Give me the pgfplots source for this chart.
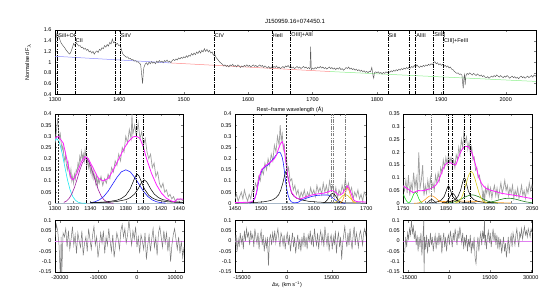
\documentclass[border=0pt]{standalone}
\usepackage{fontspec}
\setmainfont{Liberation Sans}
\usepackage{pgfplots}
\pgfplotsset{compat=1.18}
\definecolor{datag}{HTML}{A0A0A0}
\definecolor{specg}{HTML}{5A5A5A}
\definecolor{resg}{HTML}{7A7A7A}
\definecolor{contb}{HTML}{8C8CFF}
\definecolor{contr}{HTML}{FF8C8C}
\definecolor{contg}{HTML}{8CF08C}
\definecolor{tot}{HTML}{FF20FF}
\definecolor{cpur}{HTML}{A020A0}
\definecolor{ccyan}{HTML}{20E8F0}
\definecolor{cblue}{HTML}{2020FF}
\definecolor{cyel}{HTML}{D8CC20}
\definecolor{corg}{HTML}{FFA020}
\definecolor{cgrn}{HTML}{20E020}
\definecolor{cdgrn}{HTML}{208020}
\definecolor{zline}{HTML}{E080F0}
\definecolor{base}{HTML}{A8B8C8}
\newcommand{\fs}{\fontsize{5.5}{6}\selectfont}
\tikzset{lbl/.style={anchor=west, inner sep=0.6pt, font=\fs}}
\pgfplotsset{
  myax/.style={scale only axis, anchor=south west, tick align=inside,
    font=\fs, tick label style={font=\fs},
    major tick length=2pt, scaled ticks=false,
    axis line style={line width=0.5pt},
    xticklabel style={/pgf/number format/fixed, /pgf/number format/precision=2, /pgf/number format/1000 sep={}, /pgf/number format/assume math mode=true},
    yticklabel style={/pgf/number format/fixed, /pgf/number format/precision=2, /pgf/number format/1000 sep={}, /pgf/number format/assume math mode=true}},
  vl/.style={black, line width=0.7pt, dash pattern=on 3.5pt off 1.2pt on 0.8pt off 1.2pt},
  vlt/.style={black!80, line width=0.4pt, dash pattern=on 2pt off 1.2pt},
  vlg/.style={gray, line width=0.7pt, dash pattern=on 3.5pt off 1.2pt on 0.8pt off 1.2pt},
}
\begin{document}
\begin{tikzpicture}
\path[use as bounding box] (0pt,0pt) rectangle (555pt,-292pt);
\node[font=\fontsize{6}{7}\selectfont] at (295pt,-21.5pt) {J150959.16+074450.1};
\node[font=\fs, rotate=90] at (28pt,-62pt) {Normalised F$_\lambda$};
\node[font=\fs] at (290pt,-110pt) {Rest−frame wavelength (Å)};
\node[font=\fs] at (287pt,-285pt) {Δv\textsubscript{r} (km s\textsuperscript{−1})};

% ---------------- top panel ----------------
\begin{axis}[myax, at={(55pt,-94.3pt)}, width=481pt, height=64.3pt,
  xmin=1300, xmax=2047, ymin=0.4, ymax=1.6,
  xtick={1300,1400,1500,1600,1700,1800,1900,2000},
  ytick={0.4,0.6,0.8,1,1.2,1.4,1.6}]
\addplot[contb, line width=0.5pt] coordinates {(1300,1.11) (1480,0.985)};
\addplot[contr, line width=0.5pt] coordinates {(1480,0.985) (1727,0.825)};
\addplot[contg, line width=0.5pt] coordinates {(1727,0.825) (2047,0.64)};
\addplot[specg, line width=0.45pt] coordinates {
(1300,1.38) (1302,1.47) (1303,1.54) (1305,1.50) (1307,1.44) (1309,1.37) (1311,1.33) (1313,1.30) (1315,1.27) (1317,1.23) (1319,1.20) (1321,1.17) (1323,1.15) (1325,1.20) (1327,1.27) (1329,1.35) (1331,1.31) (1333,1.36) (1335,1.33) (1337,1.30) (1339,1.31) (1341,1.27) (1343,1.28) (1345,1.24) (1347,1.26) (1349,1.22) (1351,1.24) (1353,1.19) (1355,1.21) (1357,1.17) (1359,1.20) (1361,1.15) (1363,1.19) (1365,1.21) (1367,1.18) (1369,1.24) (1371,1.22) (1373,1.27) (1375,1.25) (1377,1.31) (1379,1.28) (1381,1.33) (1383,1.30) (1385,1.37) (1387,1.34) (1389,1.43) (1391,1.36) (1393,1.38) (1395,1.33) (1397,1.35) (1399,1.31) (1401,1.32) (1403,1.24) (1405,1.16) (1407,1.13) (1409,1.11) (1411,1.09) (1413,1.10) (1415,1.06) (1417,1.07) (1419,1.04) (1421,1.05) (1423,1.02) (1425,1.03) (1427,1.00) (1429,1.01) (1431,0.98) (1433,0.96) (1435,0.72) (1436,0.60) (1437,0.78) (1438,0.90) (1440,0.96) (1442,0.99) (1444,0.95) (1446,1.00) (1448,0.97) (1450,1.01) (1452,0.98) (1454,1.00) (1456,0.97) (1458,1.02) (1460,0.99) (1462,1.03) (1464,1.00) (1466,1.02) (1468,0.99) (1470,1.03) (1472,1.01) (1474,1.04) (1476,1.00) (1478,1.02) (1480,0.99) (1482,1.03) (1484,1.05) (1486,1.03) (1488,1.06) (1490,1.04) (1492,1.08) (1494,1.06) (1496,1.09) (1498,1.07) (1500,1.10) (1502,1.08) (1504,1.12) (1506,1.09) (1508,1.13) (1510,1.11) (1512,1.16) (1514,1.13) (1516,1.17) (1518,1.14) (1520,1.19) (1522,1.16) (1524,1.21) (1526,1.17) (1528,1.22) (1530,1.19) (1532,1.25) (1534,1.20) (1536,1.24) (1538,1.19) (1540,1.22) (1542,1.17) (1544,1.19) (1546,1.13) (1548,1.15) (1550,1.09) (1552,1.06) (1554,1.03) (1556,1.00) (1558,0.98) (1560,0.96)
(1562,0.93) (1564,0.95) (1566,0.92) (1568,0.94) (1570,0.91) (1572,0.95) (1574,0.93) (1576,0.96) (1578,0.92) (1580,0.94) (1582,0.91) (1584,0.95) (1586,0.93) (1588,0.90) (1590,0.93) (1592,0.91) (1594,0.94) (1596,0.92) (1598,0.95) (1600,0.92) (1602,0.94) (1604,0.91) (1606,0.93) (1608,0.95) (1610,0.92) (1612,0.94) (1614,0.91) (1616,0.93) (1618,0.95) (1620,0.92) (1622,0.94) (1624,0.90) (1626,0.93) (1628,0.91) (1630,0.89) (1632,0.92) (1634,0.88) (1636,0.91) (1638,0.89) (1640,0.92) (1642,0.90) (1644,0.93) (1646,0.89) (1648,0.91) (1650,0.88) (1652,0.90) (1654,0.92) (1656,0.89) (1658,0.93) (1660,0.91) (1662,0.94) (1664,0.90) (1666,0.92) (1668,0.89) (1670,0.91) (1672,0.88) (1674,0.90) (1676,0.92) (1678,0.89) (1680,0.91) (1682,0.88) (1684,0.90) (1686,0.92) (1688,0.89) (1690,0.91) (1692,0.88) (1694,0.90) (1696,0.87) (1697,1.29) (1698,0.86) (1700,0.89) (1702,0.87) (1704,0.90) (1706,0.88) (1708,0.91) (1710,0.89) (1712,0.92) (1714,0.89) (1716,0.91) (1718,0.88) (1720,0.90) (1722,0.87) (1724,0.89) (1726,0.91) (1728,0.88) (1730,0.90) (1732,0.87) (1734,0.89) (1736,0.86) (1738,0.89) (1740,0.87) (1742,0.90) (1744,0.86) (1746,0.88) (1748,0.85) (1750,0.87) (1752,0.90) (1754,0.88) (1756,0.91) (1758,0.87) (1760,0.89) (1762,0.86) (1764,0.88) (1766,0.85) (1768,0.87) (1770,0.84) (1772,0.86) (1774,0.83) (1776,0.85) (1778,0.82) (1780,0.84) (1782,0.81) (1784,0.83) (1786,0.80) (1788,0.83) (1790,0.82) (1792,0.90) (1794,0.74) (1795,0.70) (1796,0.80) (1798,0.82) (1800,0.80)
(1802,0.82) (1804,0.79) (1806,0.81) (1808,0.78) (1810,0.81) (1812,0.79) (1814,0.82) (1816,0.80) (1818,0.83) (1820,0.81) (1822,0.84) (1824,0.82) (1826,0.85) (1828,0.83) (1830,0.86) (1832,0.84) (1834,0.87) (1836,0.85) (1838,0.88) (1840,0.86) (1842,0.89) (1844,0.87) (1846,0.90) (1848,0.88) (1850,0.91) (1852,0.89) (1854,0.92) (1856,0.90) (1858,0.94) (1860,0.91) (1862,0.95) (1864,0.92) (1866,0.90) (1868,0.93) (1870,0.91) (1872,0.94) (1874,0.92) (1876,0.95) (1878,0.93) (1880,0.96) (1882,0.94) (1884,0.97) (1886,0.95) (1888,0.99) (1890,1.01) (1892,0.97) (1894,0.99) (1896,0.95) (1898,0.97) (1900,0.94) (1902,0.96) (1904,0.92) (1906,0.94) (1908,0.91) (1910,0.93) (1912,0.89) (1914,0.91) (1916,0.87) (1918,0.86) (1920,0.83) (1922,0.81) (1924,0.79) (1926,0.80) (1928,0.77) (1930,0.78) (1932,0.76) (1933,0.62) (1934,0.51) (1935,0.70) (1936,0.77) (1937,0.57) (1938,0.74) (1940,0.79) (1942,0.77) (1944,0.80) (1946,0.78) (1948,0.76) (1950,0.79) (1952,0.77) (1954,0.75) (1956,0.78) (1958,0.76) (1960,0.74) (1962,0.76) (1964,0.73) (1966,0.75) (1968,0.72) (1970,0.71) (1972,0.73) (1974,0.70) (1976,0.72) (1978,0.74) (1980,0.72) (1982,0.75) (1984,0.73) (1986,0.76) (1988,0.74) (1990,0.72) (1992,0.75) (1994,0.73) (1996,0.71) (1998,0.74) (2000,0.72) (2002,0.75) (2004,0.73) (2006,0.70) (2008,0.72) (2010,0.74) (2012,0.71) (2014,0.73) (2016,0.70) (2018,0.72) (2020,0.69) (2022,0.72) (2024,0.74) (2026,0.71) (2028,0.73) (2030,0.70) (2032,0.72) (2034,0.74) (2036,0.71) (2038,0.73) (2040,0.75) (2042,0.72) (2044,0.76) (2046,0.74) (2047,0.75)};
\addplot[vl] coordinates {(1301,0.4) (1301,1.6)};
\addplot[vl] coordinates {(1304,0.4) (1304,1.6)};
\addplot[vl] coordinates {(1331,0.4) (1331,1.6)};
\addplot[vl] coordinates {(1393,0.4) (1393,1.6)};
\addplot[vl] coordinates {(1401,0.4) (1401,1.6)};
\addplot[vl] coordinates {(1547,0.4) (1547,1.6)};
\addplot[vl] coordinates {(1637,0.4) (1637,1.6)};
\addplot[vl] coordinates {(1666,0.4) (1666,1.6)};
\addplot[vl] coordinates {(1817,0.4) (1817,1.6)};
\addplot[vl] coordinates {(1851,0.4) (1851,1.6)};
\addplot[vl] coordinates {(1860,0.4) (1860,1.6)};
\addplot[vl] coordinates {(1888,0.4) (1888,1.6)};
\addplot[vl] coordinates {(1903,0.4) (1903,1.6)};
\node[lbl] at (axis cs:1304,1.50) {SiII+OI};
\node[lbl] at (axis cs:1331,1.40) {CII};
\node[lbl] at (axis cs:1401,1.50) {SiIV};
\node[lbl] at (axis cs:1547,1.50) {CIV};
\node[lbl] at (axis cs:1637,1.50) {HeII};
\node[lbl] at (axis cs:1666,1.50) {OIII]+AlII};
\node[lbl] at (axis cs:1817,1.50) {SiII};
\node[lbl] at (axis cs:1860,1.50) {AlIII};
\node[lbl] at (axis cs:1888,1.50) {SiIII]};
\node[lbl] at (axis cs:1903,1.40) {CIII]+FeIII};
\end{axis}

% ---------------- middle left ----------------
\begin{axis}[myax, at={(55pt,-203.3pt)}, width=128.3pt, height=89.3pt,
  xmin=1300, xmax=1445, ymin=0, ymax=0.4,
  xtick={1300,1320,1340,1360,1380,1400,1420,1440},
  ytick={0,0.05,0.1,0.15,0.2,0.25,0.3,0.35,0.4}]
\addplot[datag, line width=0.7pt] coordinates {
(1300,0.27) (1301,0.30) (1302,0.34) (1303,0.38) (1304,0.33) (1305,0.29) (1306,0.31) (1307,0.27) (1308,0.24) (1309,0.26) (1310,0.21) (1311,0.19) (1312,0.22) (1313,0.17) (1314,0.15) (1315,0.18) (1316,0.14) (1317,0.12) (1318,0.15) (1319,0.10) (1320,0.12) (1321,0.09) (1322,0.13) (1323,0.11) (1324,0.15) (1325,0.14) (1326,0.18) (1327,0.16) (1328,0.21) (1329,0.19) (1330,0.23) (1331,0.20) (1332,0.22) (1333,0.19) (1334,0.24) (1335,0.21) (1336,0.17) (1337,0.20) (1338,0.16) (1339,0.18) (1340,0.14) (1341,0.16) (1342,0.12) (1343,0.15) (1344,0.11) (1345,0.13) (1346,0.09) (1347,0.12) (1348,0.08) (1349,0.11) (1350,0.09) (1352,0.12) (1354,0.08) (1356,0.11) (1358,0.09) (1360,0.13) (1362,0.11) (1364,0.16) (1366,0.14) (1368,0.19) (1370,0.17) (1372,0.22) (1374,0.19) (1376,0.25) (1378,0.23) (1380,0.30) (1382,0.27) (1384,0.33) (1386,0.29) (1387,0.40) (1388,0.31) (1390,0.35) (1392,0.30) (1394,0.36) (1396,0.29) (1398,0.32) (1400,0.26) (1402,0.29) (1404,0.23) (1406,0.20) (1408,0.22) (1410,0.16) (1412,0.18) (1414,0.12) (1416,0.14) (1418,0.09) (1420,0.07) (1422,0.09) (1424,0.05) (1426,0.06) (1428,0.03) (1430,0.04) (1432,0.02) (1434,0.03) (1436,0.01) (1438,0.02) (1440,0.015) (1442,0.02) (1445,0.01)};
\addplot[base, line width=0.5pt] coordinates {(1300,0.002) (1445,0.002)};
\addplot[ccyan, line width=0.6pt] coordinates {(1300,0.282) (1302,0.29) (1305,0.273) (1308,0.226) (1311,0.166) (1314,0.107) (1317,0.061) (1320,0.031) (1323,0.014) (1326,0.005) (1330,0.001) (1335,0.0)};
\addplot[cpur, line width=0.6pt] coordinates {(1310,0.004) (1313,0.010) (1316,0.022) (1319,0.042) (1322,0.071) (1325,0.108) (1328,0.148) (1331,0.181) (1334,0.199) (1335,0.2) (1337,0.195) (1340,0.171) (1343,0.135) (1346,0.095) (1349,0.06) (1352,0.034) (1355,0.017) (1358,0.008) (1362,0.002) (1366,0.0)};
\addplot[cblue, line width=0.6pt] coordinates {(1340,0.0025) (1345,0.0066) (1350,0.015) (1355,0.030) (1360,0.054) (1365,0.085) (1370,0.116) (1375,0.141) (1380,0.15) (1385,0.141) (1390,0.116) (1395,0.085) (1400,0.054) (1405,0.030) (1410,0.015) (1415,0.0066) (1420,0.0025) (1425,0.001)};
\addplot[black, line width=0.5pt] coordinates {(1340,0.0029) (1350,0.0043) (1360,0.0072) (1370,0.014) (1375,0.0215) (1380,0.0357) (1385,0.065) (1388,0.0935) (1391,0.122) (1393,0.13) (1395,0.122) (1398,0.0935) (1401,0.065) (1406,0.0357) (1411,0.0215) (1416,0.014) (1426,0.0072) (1436,0.0043) (1445,0.0031)};
\addplot[black, line width=0.5pt] coordinates {(1340,0.0022) (1350,0.0032) (1360,0.0048) (1370,0.0082) (1380,0.0163) (1385,0.0252) (1390,0.042) (1394,0.0654) (1398,0.0945) (1401,0.105) (1404,0.0945) (1408,0.0654) (1412,0.042) (1417,0.0252) (1422,0.0163) (1432,0.0082) (1445,0.0042)};
\addplot[tot, line width=0.8pt] coordinates {(1300,0.291) (1303.8,0.30) (1309.4,0.269) (1313.2,0.20) (1318,0.112) (1320.7,0.105) (1324.5,0.131) (1330,0.187) (1333.8,0.209) (1337.6,0.2) (1343.2,0.157) (1348.9,0.112) (1354.5,0.1) (1360.2,0.112) (1365.8,0.149) (1371.5,0.194) (1377.1,0.239) (1382.8,0.276) (1388.4,0.298) (1392.2,0.30) (1396,0.291) (1399.7,0.254) (1403.5,0.2) (1409.1,0.134) (1414.8,0.082) (1420.4,0.045) (1426,0.022) (1431.7,0.01) (1435.5,0.007) (1438.5,0.019) (1443,0.019) (1445,0.018)};
\addplot[vlt] coordinates {(1304,0) (1304,0.4)};
\addplot[vl] coordinates {(1335,0) (1335,0.4)};
\addplot[vl] coordinates {(1392,0) (1392,0.4)};
\addplot[vl] coordinates {(1400,0) (1400,0.4)};
\end{axis}

% ---------------- middle centre ----------------
\begin{axis}[myax, at={(235pt,-203.3pt)}, width=131.3pt, height=89.3pt,
  xmin=1450, xmax=1700, ymin=0, ymax=0.4,
  xtick={1450,1500,1550,1600,1650,1700},
  ytick={0,0.05,0.1,0.15,0.2,0.25,0.3,0.35,0.4}]
\addplot[datag, line width=0.7pt] coordinates {
(1450,0.02) (1453,0.04) (1456,0.01) (1459,0.03) (1462,0.05) (1465,0.02) (1468,0.06) (1471,0.03) (1474,0.01) (1477,0.04) (1480,0.02) (1483,0.06) (1486,0.05) (1489,0.09) (1492,0.07) (1495,0.12) (1498,0.10) (1501,0.15) (1504,0.13) (1507,0.18) (1510,0.15) (1513,0.20) (1516,0.17) (1519,0.22) (1522,0.19) (1525,0.26) (1528,0.23) (1531,0.30) (1534,0.26) (1536,0.35) (1538,0.28) (1540,0.31) (1542,0.24) (1544,0.26) (1546,0.19) (1548,0.21) (1550,0.14) (1552,0.16) (1555,0.10) (1558,0.11) (1561,0.06) (1564,0.08) (1567,0.04) (1570,0.06) (1573,0.02) (1576,0.05) (1579,0.03) (1582,0.06) (1585,0.02) (1588,0.05) (1591,0.03) (1594,0.07) (1597,0.04) (1600,0.06) (1603,0.03) (1606,0.08) (1609,0.05) (1612,0.07) (1615,0.04) (1618,0.09) (1621,0.05) (1624,0.08) (1627,0.04) (1630,0.10) (1633,0.06) (1636,0.08) (1639,0.03) (1642,0.07) (1645,0.02) (1648,0.06) (1651,0.04) (1654,0.08) (1657,0.05) (1660,0.11) (1663,0.06) (1666,0.09) (1669,0.05) (1672,0.07) (1675,0.02) (1678,0.05) (1681,0.03) (1684,0.06) (1687,0.02) (1690,0.04) (1693,0.01) (1696,0.05) (1700,0.03)};
\addplot[base, line width=0.5pt] coordinates {(1450,0.002) (1700,0.002)};
\addplot[cblue, line width=0.6pt] coordinates {(1478,0.0) (1484,0.007) (1488,0.025) (1491,0.045) (1494,0.085) (1497,0.12) (1500,0.142) (1504,0.157) (1508,0.165) (1513,0.172) (1518,0.185) (1523,0.2) (1528,0.215) (1532,0.228) (1535,0.229) (1537,0.224) (1540,0.205) (1542,0.18) (1544,0.145) (1546,0.104) (1548,0.07) (1551,0.037) (1554,0.017) (1557,0.007) (1562,0.002) (1570,0.004) (1577,0.015) (1586,0.023) (1595,0.03) (1605,0.035) (1615,0.037) (1627,0.037) (1632,0.032) (1637,0.022) (1642,0.013) (1646,0.007) (1652,0.002) (1660,0.0)};
\addplot[black, line width=0.5pt] coordinates {(1450,0.001) (1470,0.002) (1490,0.004) (1505,0.007) (1515,0.011) (1522,0.016) (1528,0.025) (1533,0.038) (1537,0.058) (1541,0.09) (1544,0.12) (1546.5,0.142) (1549,0.135) (1552,0.105) (1555,0.07) (1558,0.045) (1562,0.032) (1568,0.022) (1577,0.015) (1590,0.009) (1610,0.005) (1640,0.003) (1700,0.001)};
\addplot[black, line width=0.5pt] coordinates {(1618,0.0017) (1622,0.006) (1626,0.016) (1630,0.031) (1633,0.041) (1636,0.045) (1639,0.041) (1642,0.031) (1646,0.016) (1650,0.006) (1654,0.0017)};
\addplot[cyel, line width=0.6pt] coordinates {(1640,0.0034) (1645,0.01) (1650,0.0216) (1655,0.034) (1660,0.04) (1665,0.034) (1670,0.0216) (1675,0.01) (1680,0.0034)};
\addplot[corg, line width=0.6pt] coordinates {(1650,0.0014) (1654,0.0095) (1657,0.026) (1660,0.051) (1662,0.064) (1664,0.07) (1666,0.064) (1668,0.051) (1671,0.026) (1674,0.0095) (1678,0.0014)};
\addplot[tot, line width=0.8pt] coordinates {(1450,0.003) (1465,0.004) (1476,0.005) (1482,0.007) (1485,0.012) (1488,0.022) (1491,0.05) (1494,0.09) (1497,0.125) (1500,0.148) (1505,0.162) (1510,0.172) (1515,0.18) (1520,0.188) (1525,0.2) (1529,0.216) (1533,0.245) (1537,0.269) (1540,0.276) (1542,0.26) (1545,0.224) (1548,0.164) (1550,0.13) (1552,0.104) (1555,0.075) (1557,0.052) (1561,0.038) (1564,0.03) (1568,0.023) (1573,0.019) (1580,0.024) (1586,0.03) (1594,0.036) (1602,0.04) (1610,0.043) (1618,0.045) (1626,0.05) (1633,0.057) (1637,0.056) (1640,0.052) (1644,0.044) (1647,0.037) (1651,0.038) (1655,0.045) (1659,0.062) (1664,0.078) (1667,0.068) (1670,0.052) (1673,0.032) (1676,0.015) (1680,0.009) (1684,0.007) (1700,0.006)};
\addplot[vl] coordinates {(1485,0) (1485,0.4)};
\addplot[vlt] coordinates {(1547,0) (1547,0.4)};
\addplot[vlg] coordinates {(1634,0) (1634,0.4)};
\addplot[vlg] coordinates {(1637,0) (1637,0.4)};
\addplot[vlg] coordinates {(1661,0) (1661,0.4)};
\end{axis}

% ---------------- middle right ----------------
\begin{axis}[myax, at={(403.3pt,-203.3pt)}, width=129pt, height=89.3pt,
  xmin=1750, xmax=2050, ymin=0, ymax=0.35,
  xtick={1750,1800,1850,1900,1950,2000,2050},
  ytick={0,0.05,0.1,0.15,0.2,0.25,0.3,0.35}]
\addplot[datag, line width=0.7pt] coordinates {
(1750,0.07) (1753,0.05) (1756,0.09) (1759,0.04) (1762,0.11) (1765,0.03) (1768,0.08) (1771,0.05) (1774,0.12) (1777,0.06) (1780,0.10) (1783,0.04) (1786,0.20) (1789,0.06) (1792,0.09) (1795,0.15) (1798,0.03) (1801,0.07) (1804,0.04) (1807,0.09) (1810,0.05) (1813,0.10) (1816,0.06) (1819,0.08) (1822,0.05) (1825,0.11) (1828,0.08) (1831,0.12) (1834,0.09) (1837,0.14) (1840,0.12) (1843,0.17) (1846,0.14) (1849,0.18) (1852,0.15) (1855,0.19) (1858,0.16) (1861,0.18) (1864,0.15) (1867,0.17) (1870,0.14) (1873,0.19) (1876,0.17) (1879,0.22) (1882,0.19) (1885,0.25) (1888,0.22) (1891,0.28) (1894,0.24) (1897,0.26) (1900,0.21) (1903,0.24) (1906,0.19) (1909,0.22) (1912,0.17) (1915,0.18) (1918,0.13) (1921,0.14) (1924,0.10) (1927,0.11) (1930,0.08) (1933,0.06) (1935,0.01) (1937,0.05) (1939,0.00) (1941,0.06) (1944,0.04) (1947,0.07) (1950,0.03) (1953,0.06) (1956,0.02) (1959,0.05) (1962,0.07) (1965,0.03) (1968,0.06) (1971,0.02) (1974,0.05) (1977,0.08) (1980,0.04) (1983,0.06) (1986,0.09) (1989,0.05) (1992,0.07) (1995,0.03) (1998,0.06) (2001,0.04) (2004,0.07) (2007,0.02) (2010,0.05) (2013,0.03) (2016,0.06) (2019,0.02) (2022,0.04) (2025,0.07) (2028,0.03) (2031,0.05) (2034,0.02) (2037,0.06) (2040,0.04) (2043,0.08) (2046,0.05) (2049,0.07) (2050,0.06)};
\addplot[base, line width=0.5pt] coordinates {(1750,0.002) (2050,0.002)};
\addplot[cgrn, line width=0.6pt] coordinates {(1750,0.035) (1754,0.02) (1758,0.008) (1762,0.002)};
\addplot[cgrn, line width=0.6pt] coordinates {(1762,0.0013) (1766,0.006) (1770,0.0185) (1774,0.036) (1778,0.045) (1782,0.036) (1786,0.0185) (1790,0.006) (1794,0.0013)};
\addplot[corg, line width=0.6pt] coordinates {(1775,0.0001) (1785,0.0013) (1795,0.0075) (1800,0.0137) (1805,0.0212) (1810,0.0275) (1815,0.03) (1820,0.0275) (1825,0.0212) (1830,0.0137) (1835,0.0075) (1845,0.0013) (1855,0.0001)};
\addplot[corg, line width=0.6pt] coordinates {(1830,0.006) (1870,0.009) (1910,0.008) (1950,0.004) (2000,0.001)};
\addplot[cdgrn, line width=0.6pt] coordinates {(1850,0.0008) (1865,0.004) (1875,0.0093) (1885,0.0173) (1895,0.026) (1905,0.032) (1910,0.033) (1915,0.032) (1925,0.026) (1935,0.0173) (1945,0.0093) (1955,0.004) (1970,0.0008)};
\addplot[cdgrn, line width=0.6pt] coordinates {(1940,0.0018) (1955,0.0056) (1965,0.0097) (1975,0.0145) (1985,0.0185) (1995,0.02) (2005,0.0185) (2015,0.0145) (2025,0.0097) (2035,0.0056) (2050,0.0018)};
\addplot[black, line width=0.5pt] coordinates {(1804,0.001) (1808,0.005) (1812,0.012) (1816,0.015) (1820,0.012) (1824,0.005) (1828,0.001)};
\addplot[black, line width=0.5pt] coordinates {(1810,0.0021) (1820,0.0034) (1830,0.0063) (1838,0.0123) (1845,0.0265) (1850,0.0489) (1853,0.064) (1855,0.068) (1857,0.064) (1860,0.0489) (1865,0.0265) (1872,0.0123) (1880,0.0063) (1890,0.0034) (1900,0.0021) (1920,0.001)};
\addplot[black, line width=0.5pt] coordinates {(1848,0.002) (1852,0.007) (1856,0.0175) (1860,0.031) (1865,0.04) (1870,0.031) (1874,0.0175) (1878,0.007) (1882,0.002)};
\addplot[black, line width=0.5pt] coordinates {(1840,0.0029) (1850,0.0044) (1860,0.0073) (1870,0.0143) (1877,0.0265) (1883,0.05) (1887,0.0764) (1890,0.0953) (1892,0.10) (1894,0.0953) (1897,0.0764) (1901,0.05) (1907,0.0265) (1914,0.0143) (1924,0.0073) (1934,0.0044) (1944,0.0029) (1960,0.0017)};
\addplot[cyel, line width=0.6pt] coordinates {(1870,0.0008) (1878,0.0055) (1885,0.02) (1890,0.041) (1895,0.07) (1900,0.1) (1904,0.118) (1908,0.125) (1912,0.118) (1916,0.1) (1921,0.07) (1926,0.041) (1931,0.02) (1938,0.0055) (1946,0.0008)};
\addplot[tot, line width=0.8pt] coordinates {(1750,0.068) (1756,0.061) (1762,0.055) (1768,0.047) (1773,0.042) (1779,0.046) (1785,0.05) (1791,0.049) (1797,0.05) (1803,0.052) (1808,0.055) (1814,0.058) (1820,0.063) (1826,0.072) (1831,0.085) (1837,0.11) (1843,0.137) (1848,0.152) (1853,0.159) (1858,0.16) (1862,0.157) (1867,0.152) (1872,0.15) (1877,0.172) (1882,0.196) (1887,0.212) (1892,0.222) (1897,0.223) (1901,0.222) (1905,0.213) (1909,0.2) (1913,0.18) (1917,0.157) (1921,0.133) (1924,0.111) (1928,0.093) (1932,0.078) (1937,0.067) (1942,0.059) (1948,0.054) (1956,0.05) (1965,0.046) (1979,0.039) (1990,0.036) (2002,0.033) (2014,0.03) (2025,0.026) (2038,0.022) (2050,0.018)};
\addplot[vlg] coordinates {(1816,0) (1816,0.35)};
\addplot[vl] coordinates {(1855,0) (1855,0.35)};
\addplot[vl] coordinates {(1865,0) (1865,0.35)};
\addplot[vl] coordinates {(1892,0) (1892,0.35)};
\addplot[vl] coordinates {(1907,0) (1907,0.35)};
\end{axis}

% ---------------- bottom left ----------------
\begin{axis}[myax, at={(55pt,-271.8pt)}, width=129pt, height=51.3pt,
  xmin=-21300, xmax=12300, ymin=-0.15, ymax=0.1,
  xtick={-20000,-10000,0,10000},
  ytick={-0.15,-0.1,-0.05,0,0.05,0.1}]
\addplot[zline, line width=0.7pt] coordinates {(-21300,0) (12300,0)};
\addplot[resg, line width=0.5pt] coordinates {
(-21300,0.02) (-20950,0.08) (-20600,0.05) (-20250,-0.02) (-19900,-0.18) (-19700,0.02) (-19550,-0.17) (-19200,0.04) (-18850,0.02) (-18500,0.06) (-18150,-0.03) (-17800,0.05) (-17450,-0.04) (-17100,0.01) (-16750,0.07) (-16400,-0.02) (-16050,0.03) (-15700,-0.06) (-15350,0.04) (-15000,0.00) (-14650,-0.03) (-14300,0.05) (-13950,-0.07) (-13600,-0.01) (-13250,0.02) (-12900,-0.05) (-12550,0.06) (-12200,0.01) (-11850,-0.04) (-11500,0.03) (-11150,0.07) (-10800,-0.02) (-10450,0.02) (-10100,-0.08) (-9750,-0.03) (-9400,0.04) (-9050,-0.01) (-8700,0.05) (-8350,-0.06) (-8000,0.02) (-7650,-0.02) (-7300,0.06) (-6950,0.00) (-6600,-0.05) (-6250,0.03) (-5900,-0.08) (-5550,-0.02) (-5200,0.04) (-4850,0.01) (-4500,-0.04) (-4150,0.05) (-3800,0.08) (-3450,0.02) (-3100,0.06) (-2750,-0.01) (-2400,0.03) (-2050,0.10) (-1700,0.04) (-1350,-0.02) (-1000,0.05) (-650,0.01) (-300,0.07) (50,-0.03) (400,0.02) (750,-0.06) (1100,0.03) (1450,0.00) (1800,-0.04) (2150,0.04) (2500,-0.09) (2850,-0.02) (3200,0.03) (3550,-0.05) (3900,0.01) (4250,0.06) (4600,-0.03) (4950,0.02) (5300,-0.07) (5650,0.04) (6000,0.07) (6350,0.02) (6700,-0.03) (7050,0.05) (7400,-0.01) (7750,0.04) (8100,-0.05) (8450,0.02) (8800,-0.10) (9150,-0.02) (9500,0.03) (9850,0.06) (10200,0.01) (10550,-0.04) (10900,0.02) (11250,-0.06) (11600,0.00) (11950,-0.08) (12300,-0.03)};
\end{axis}

% ---------------- bottom centre ----------------
\begin{axis}[myax, at={(235pt,-271.8pt)}, width=131.3pt, height=51.3pt,
  xmin=-17350, xmax=26600, ymin=-0.15, ymax=0.1,
  xtick={-15000,0,15000},
  ytick={-0.15,-0.1,-0.05,0,0.05,0.1}]
\addplot[zline, line width=0.7pt] coordinates {(-17350,0) (26600,0)};
\addplot[resg, line width=0.5pt] coordinates {
(-17350,-0.02) (-17000,0.03) (-16650,-0.05) (-16300,0.01) (-15950,-0.03) (-15600,0.04) (-15250,-0.01) (-14900,0.02) (-14550,-0.04) (-14200,0.05) (-13850,0.00) (-13500,0.06) (-13150,0.02) (-12800,0.04) (-12450,-0.02) (-12100,0.05) (-11750,0.01) (-11400,0.03) (-11050,-0.03) (-10700,0.06) (-10350,0.02) (-10000,-0.01) (-9650,0.04) (-9300,-0.04) (-8950,0.02) (-8600,0.05) (-8250,-0.02) (-7900,0.03) (-7550,-0.05) (-7200,0.01) (-6850,-0.03) (-6500,0.02) (-6150,-0.12) (-5800,0.01) (-5450,0.03) (-5100,-0.02) (-4750,0.04) (-4400,0.00) (-4050,0.05) (-3700,-0.01) (-3350,0.03) (-3000,0.06) (-2650,0.01) (-2300,-0.03) (-1950,0.04) (-1600,0.02) (-1250,-0.02) (-900,0.03) (-550,-0.04) (-200,0.01) (150,0.04) (500,-0.02) (850,0.03) (1200,-0.05) (1550,0.00) (1900,0.04) (2250,-0.03) (2600,0.02) (2950,-0.06) (3300,-0.01) (3650,0.03) (4000,-0.04) (4350,0.01) (4700,-0.05) (5050,0.02) (5400,-0.02) (5750,0.04) (6100,-0.03) (6450,0.02) (6800,-0.04) (7150,0.03) (7500,0.00) (7850,0.05) (8200,-0.02) (8550,0.03) (8900,-0.03) (9250,0.06) (9600,0.01) (9950,-0.02) (10300,0.04) (10650,-0.04) (11000,0.02) (11350,0.05) (11700,-0.01) (12050,0.03) (12400,-0.03) (12750,0.07) (13100,0.02) (13450,-0.02) (13800,0.04) (14150,-0.05) (14500,0.01) (14850,0.03) (15200,-0.04) (15550,0.02) (15900,-0.02) (16250,0.05) (16600,-0.06) (16950,0.01) (17300,0.04) (17650,-0.03) (18000,0.02) (18350,-0.09) (18700,-0.01) (19050,0.03) (19400,0.07) (19750,0.01) (20100,-0.03) (20450,0.04) (20800,-0.02) (21150,0.06) (21500,0.00) (21850,-0.04) (22200,0.03) (22550,0.07) (22900,-0.02) (23250,0.04) (23600,0.01) (23950,-0.03) (24300,0.03) (24650,0.05) (25000,0.02) (25350,-0.02) (25700,0.04) (26050,0.06) (26400,0.03) (26600,0.05)};
\end{axis}

% ---------------- bottom right ----------------
\begin{axis}[myax, at={(403.3pt,-271.8pt)}, width=129pt, height=51.3pt,
  xmin=-16950, xmax=30600, ymin=-0.15, ymax=0.1,
  xtick={-15000,0,15000,30000},
  ytick={-0.15,-0.1,-0.05,0,0.05,0.1}]
\addplot[zline, line width=0.7pt] coordinates {(-16950,0) (30600,0)};
\addplot[resg, line width=0.5pt] coordinates {
(-16950,-0.06) (-16400,-0.05) (-16050,0.02) (-15700,-0.03) (-15350,0.04) (-15000,0.01) (-14650,0.06) (-14300,0.03) (-13950,0.10) (-13600,0.04) (-13250,0.07) (-12900,0.01) (-12550,0.05) (-12200,-0.02) (-11850,0.03) (-11500,-0.05) (-11150,0.02) (-10800,-0.03) (-10450,0.04) (-10100,-0.07) (-9750,0.01) (-9400,0.10) (-9300,-0.16) (-9050,0.02) (-8700,-0.04) (-8350,0.03) (-8000,-0.06) (-7650,0.01) (-7300,-0.03) (-6950,0.04) (-6600,-0.02) (-6250,0.02) (-5900,-0.05) (-5550,0.00) (-5200,0.03) (-4850,-0.04) (-4500,0.02) (-4150,-0.02) (-3800,0.04) (-3450,-0.01) (-3100,0.03) (-2750,-0.06) (-2400,0.00) (-2050,0.04) (-1700,-0.03) (-1350,0.02) (-1000,-0.05) (-650,0.01) (-300,0.03) (50,-0.02) (400,0.05) (750,0.01) (1100,-0.03) (1450,0.04) (1800,0.00) (2150,0.06) (2500,0.02) (2850,-0.02) (3200,0.05) (3550,0.01) (3900,0.07) (4250,0.03) (4600,-0.01) (4950,0.04) (5300,-0.04) (5650,0.02) (6000,-0.02) (6350,0.03) (6700,-0.05) (7050,0.01) (7400,-0.03) (7750,0.03) (8100,-0.06) (8450,0.00) (8800,-0.04) (9150,0.02) (9500,-0.08) (9850,-0.11) (10200,-0.03) (10550,0.02) (10900,-0.05) (11250,0.01) (11600,0.04) (11950,-0.02) (12300,0.05) (12650,0.01) (13000,0.10) (13100,-0.02) (13350,0.03) (13700,-0.04) (14050,0.02) (14400,0.05) (14750,-0.01) (15100,0.04) (15450,-0.03) (15800,0.02) (16150,0.06) (16500,0.00) (16850,0.04) (17200,-0.02) (17550,0.03) (17900,-0.04) (18250,0.02) (18600,-0.03) (18950,0.01) (19300,-0.06) (19650,-0.02) (20000,0.02) (20350,-0.05) (20700,-0.01) (21050,-0.08) (21400,-0.03) (21750,0.02) (22100,-0.06) (22450,0.00) (22800,0.03) (23150,-0.03) (23500,0.04) (23850,0.01) (24200,-0.02) (24550,0.03) (24900,0.06) (25250,0.01) (25600,-0.03) (25950,0.04) (26300,0.02) (26650,0.06) (27000,0.01) (27350,0.04) (27700,0.07) (28050,0.03) (28400,0.05) (28750,0.02) (29100,0.06) (29450,0.04) (29800,0.02) (30150,0.06) (30600,0.04)};
\end{axis}
\end{tikzpicture}
\end{document}
